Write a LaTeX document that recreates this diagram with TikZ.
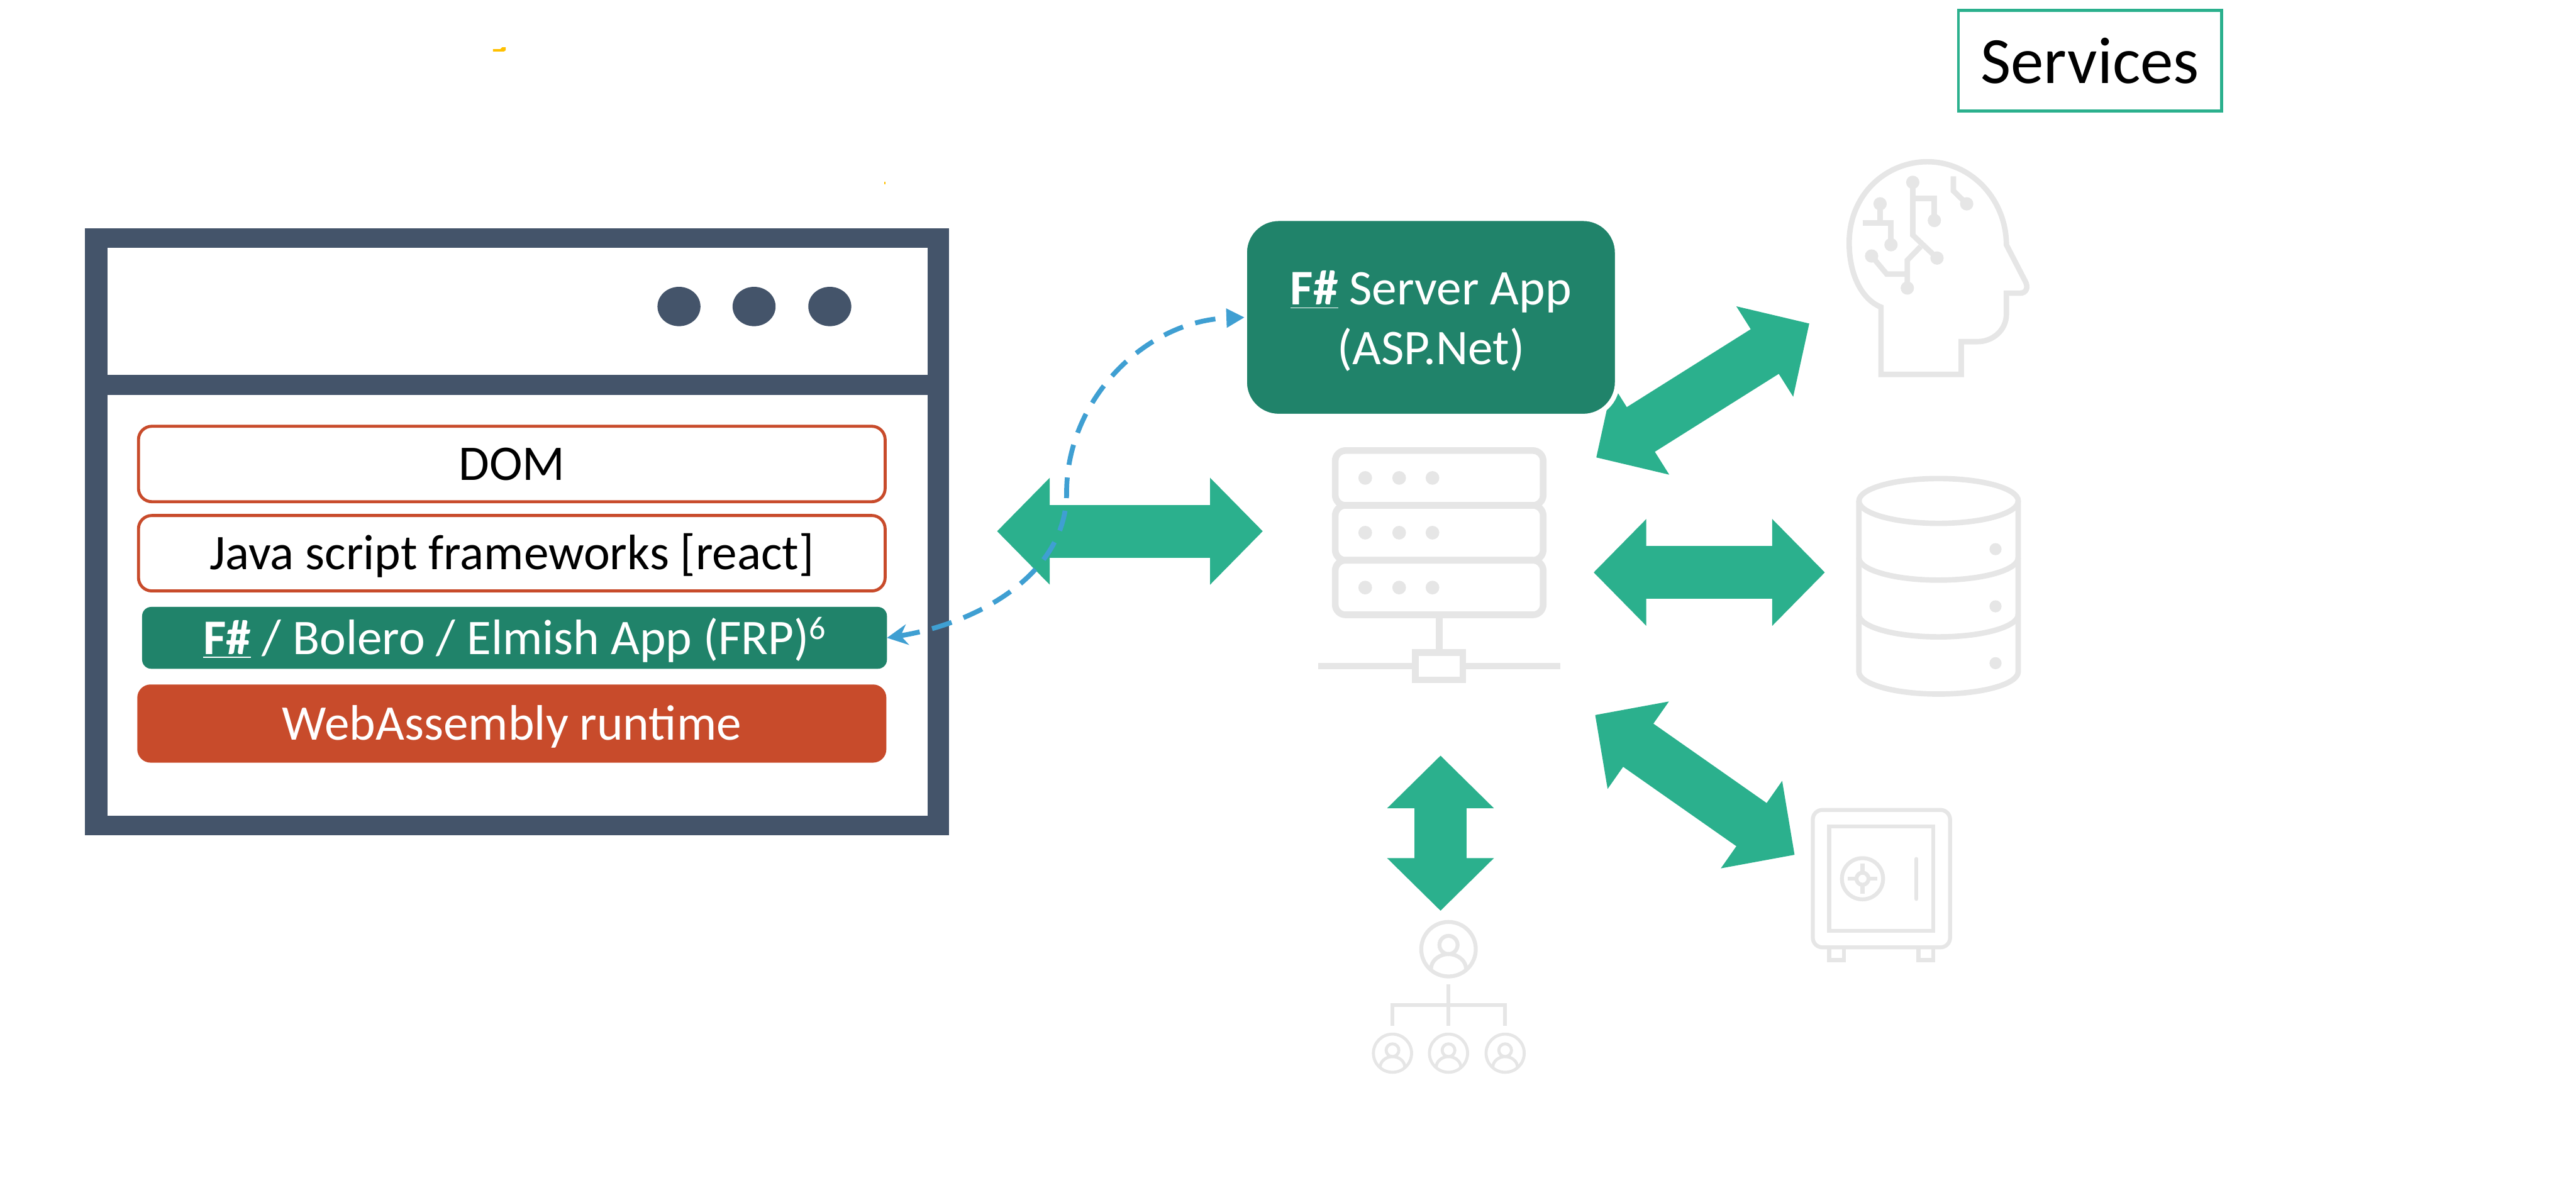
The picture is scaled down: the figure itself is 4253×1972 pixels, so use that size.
\documentclass[tikz,border=0pt]{standalone}
\usepackage{fontspec}
\setmainfont{Carlito}
\usetikzlibrary{arrows.meta,positioning}
\definecolor{slate}{HTML}{44546A}
\definecolor{rust}{HTML}{C84B2B}
\definecolor{teal}{HTML}{20836A}
\definecolor{mint}{HTML}{2BB08D}
\definecolor{sky}{HTML}{3F9FD2}
\definecolor{icongray}{HTML}{E6E6E6}
\definecolor{speck}{HTML}{FFC000}
\tikzset{
  lbl/.style = {font=\fontsize{23.4}{27.9}\selectfont, align=center, inner sep=0pt, outer sep=0pt},
  oneline/.style = {lbl, text height=0.72cm, text depth=0.18cm},
  pane/.style = {fill=white, inner sep=0pt, outer sep=0pt},
  outlined/.style = {oneline, draw=rust, fill=white, line width=0.05cm, rounded corners=0.22cm, minimum width=12.32cm, minimum height=1.245cm},
  tealbar/.style = {oneline, fill=teal, text=white, rounded corners=0.15cm, minimum width=12.29cm, minimum height=1.02cm},
  rustbar/.style = {oneline, fill=rust, text=white, rounded corners=0.22cm, minimum width=12.36cm, minimum height=1.29cm},
  bigarrow/.style = {mint, line width=0.87cm, {Triangle[length=0.87cm,width=1.71cm]}-{Triangle[length=0.87cm,width=1.71cm]}},
  thin icon/.style = {draw=icongray, line width=0.065cm},
  icon/.style = {draw=icongray, line width=0.09cm},
  person/.pic = {
    \draw[draw=icongray] (0,0) circle (45);
    \draw[draw=icongray] (0,-7) circle (15);
    \draw[draw=icongray] (-29,33) .. controls (-29,18) and (-14,8) .. (0,8) .. controls (14,8) and (29,18) .. (29,33);
  }
}
\begin{document}
\begin{tikzpicture}[x=0.01cm,y=-0.01cm]
    \useasboundingbox (0,0) rectangle (4253,1972);
    % browser window
    \node[fill=slate, inner sep=0pt, outer sep=0pt, minimum width=14.25cm, minimum height=10.02cm] (browser) at (853.5,878) {};
    \node[pane, minimum width=13.53cm, minimum height=2.1cm] (titlebar) at (854.5,514) {};
    \node[pane, minimum width=13.53cm, minimum height=6.95cm] (page) at (854.5,999.5) {};
    \foreach \dotx in {1121,1245,1370}
        \fill[slate] (\dotx,506) ellipse (35.5 and 32.5);
    \node[outlined] (dom) at (845,766) {DOM};
    \node[outlined] (js) at (845,913.3) {Java script frameworks [react]};
    \node[tealbar] (app) at (849.5,1053) {\underline{\textbf{F\#}} / Bolero / Elmish App (FRP)\raisebox{0.25cm}{\fontsize{15.4}{15.4}\selectfont 6}};
    \node[rustbar] (wasm) at (845,1194.5) {WebAssembly runtime};
    % services
    \node[lbl, draw=mint, line width=0.05cm, minimum width=4.34cm, minimum height=1.66cm, font=\fontsize{31}{35}\selectfont] (services) at (3450.5,100.5) {Services};
    % arrows
    \coordinate (clientend) at (1646,877);
    \coordinate (rackwest) at (2085,877);
    \coordinate (rackne) at (2635.3,755.3);
    \coordinate (brain) at (2987.3,534);
    \coordinate (rackeast) at (2631,945);
    \coordinate (db) at (3013,945);
    \coordinate (racksw) at (2633.5,1180.3);
    \coordinate (vault) at (2963,1411.3);
    \coordinate (racksouth) at (2378.3,1247.3);
    \coordinate (people) at (2378.3,1503.7);
    \draw[bigarrow] (clientend) -- (rackwest);
    \draw[bigarrow] (rackne) -- (brain);
    \draw[bigarrow] (rackeast) -- (db);
    \draw[bigarrow] (racksw) -- (vault);
    \draw[bigarrow] (racksouth) -- (people);
    % server app box
    \node[lbl, draw=white, fill=teal, text=white, line width=0.08cm, rounded corners=0.56cm, minimum width=6.15cm, minimum height=3.26cm] (server) at (2362.5,524) {\rule{0pt}{0.68cm}\underline{\textbf{F\#}} Server App\\(ASP.Net)};
    \coordinate (bend) at (1761,813);
    \draw[sky, line width=0.08cm, dash pattern=on 0.34cm off 0.21cm, {Stealth[length=0.34cm,width=0.34cm]}-{Triangle[length=0.3cm,width=0.3cm]}] (app.east) .. controls (1610,1030) and (1761,950) .. (bend) .. controls (1761,660) and (1890,530) .. (server.west);
    % rack icon
    \draw[draw=icongray, line width=0.11cm, rounded corners=0.17cm] (2204.5,743.8) rectangle (2547.8,834.3);
    \draw[draw=icongray, line width=0.11cm, rounded corners=0.17cm] (2204.5,834.3) rectangle (2547.8,924.9);
    \draw[draw=icongray, line width=0.11cm, rounded corners=0.17cm] (2204.5,924.9) rectangle (2547.8,1015);
    \foreach \rowy in {789,879.4,970}
        \foreach \colx in {2254,2310,2365}
            \fill[icongray] (\colx,\rowy) circle (11.3);
    \draw[draw=icongray, line width=0.11cm] (2376,1015) -- (2376,1077);
    \draw[draw=icongray, line width=0.11cm] (2337,1077) rectangle (2415,1122.5);
    \draw[draw=icongray, line width=0.11cm] (2176,1099.7) -- (2337,1099.7);
    \draw[draw=icongray, line width=0.11cm] (2415,1099.7) -- (2575.6,1099.7);
    % head icon
    \draw[icon, line join=miter] (3105.5,618) -- (3105.5,507) .. controls (3075,495) and (3053,455) .. (3053,401) .. controls (3053,320) and (3115,267) .. (3182,267) .. controls (3255,267) and (3312.5,330) .. (3312.5,404) -- (3343,463) .. controls (3350,475) and (3345,484) .. (3335,484) -- (3312.5,484) -- (3312.5,519) .. controls (3312.5,545) and (3290,564) .. (3265,564) -- (3238,564) -- (3238,618) -- cycle;
    \draw[icon] (3158,301) -- (3158,388) -- (3198,426);
    \draw[icon] (3158,327.5) -- (3193.6,327.5) -- (3193.6,364);
    \draw[icon] (3104,336.5) -- (3104,368);
    \draw[icon] (3075,368) -- (3122,368) -- (3122,404);
    \draw[icon] (3247,336.5) -- (3225,315) -- (3225,291);
    \draw[icon] (3090,422.6) -- (3115,452.5) -- (3149,452.5);
    \draw[icon] (3149,475.5) -- (3149,429.6) -- (3171,407);
    \foreach \jointx/\jointy in {3158/301,3198/426,3193.6/364,3104/336.5,3122/404,3247/336.5,3090/422.6,3149/475.5}
        \fill[icongray] (\jointx,\jointy) circle (11);
    % database icon
    \draw[icon] (3200.6,827) ellipse (131.5 and 37);
    \draw[icon] (3069,827) -- (3069,1108.8) arc[start angle=180, end angle=0, x radius=131.5, y radius=37] -- (3332,827);
    \draw[icon] (3069,920.7) arc[start angle=180, end angle=0, x radius=131.5, y radius=37];
    \draw[icon] (3069,1014.4) arc[start angle=180, end angle=0, x radius=131.5, y radius=37];
    \foreach \dotsy in {906.6,1001,1094.8}
        \fill[icongray] (3294.6,\dotsy) circle (10);
    % safe icon
    \draw[thin icon, rounded corners=0.16cm] (2992.9,1337) rectangle (3219.6,1564);
    \draw[thin icon] (3020,1364.3) rectangle (3192,1536.7);
    \draw[thin icon] (3075,1450.7) circle (34);
    \draw[thin icon] (3075,1450.7) circle (10);
    \draw[thin icon] (3075,1426) -- (3075,1440);
    \draw[thin icon] (3075,1461) -- (3075,1475);
    \draw[thin icon] (3051,1450.7) -- (3065,1450.7);
    \draw[thin icon] (3085,1450.7) -- (3099,1450.7);
    \draw[thin icon, line cap=round] (3164,1418) -- (3164,1484);
    \draw[thin icon] (3020,1564) -- (3020,1585) -- (3044,1585) -- (3044,1564);
    \draw[thin icon] (3167.4,1564) -- (3167.4,1585) -- (3192,1585) -- (3192,1564);
    % org chart icon
    \pic[line width=0.065cm] at (2391.5,1567) {person};
    \foreach \orgx in {2299,2391.5,2485}
        \pic[line width=0.05cm, scale=0.7] at (\orgx,1738.7) {person};
    \draw[thin icon] (2391.5,1625) -- (2391.5,1694);
    \draw[thin icon] (2299,1694) -- (2299,1659.3) -- (2485,1659.3) -- (2485,1694);
    % stray marks
    \fill[speck] (814,81) -- (826,81) -- (829,78) -- (835,78) -- (835,83) -- (832,85) -- (814,85) -- cycle;
    \fill[speck] (1460,300) rectangle (1462,304);
\end{tikzpicture}
\end{document}
